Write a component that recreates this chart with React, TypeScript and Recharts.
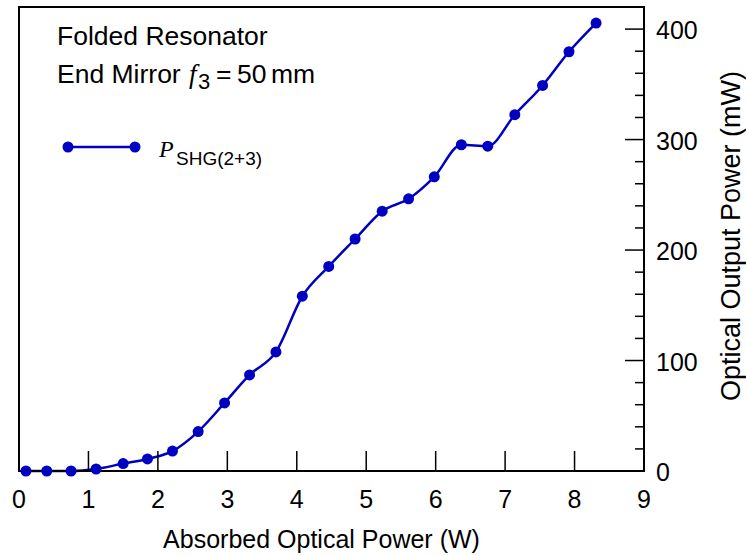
import React from 'react';
import { LineChart, Line, XAxis, YAxis, ReferenceArea, Legend, Label } from 'recharts';

const absorbedPower = [0.10, 0.40, 0.75, 1.11, 1.50, 1.85, 2.21, 2.58, 2.96, 3.32, 3.70, 4.08, 4.46, 4.84, 5.23, 5.61, 5.98, 6.37, 6.75, 7.14, 7.54, 7.92, 8.31];
const shgPower = [0, 0, 0, 1.8, 6.7, 10.9, 18, 35.7, 61.6, 87, 107.8, 158.2, 185.2, 210, 235.2, 246.4, 266.3, 295.3, 294, 322.5, 349, 379.5, 405.5];
const xTicks = [0, 1, 2, 3, 4, 5, 6, 7, 8, 9];
const yTicks = [0, 20, 40, 60, 80, 100, 120, 140, 160, 180, 200, 220, 240, 260, 280, 300, 320, 340, 360, 380, 400];
const yLabelTicks = [0, 100, 200, 300, 400];
const seriesName = 'SHG(2+3)';

const data = absorbedPower.map((x, i) => ({ x, p: shgPower[i] }));

const SANS = '"Liberation Sans", Arial, sans-serif';
const SERIF = '"Liberation Serif", "Times New Roman", serif';
const BLUE = '#0000C0';

const XTick = (props: any) => {
  const { x, y, payload } = props;
  const v = payload.value;
  return (
    <g>
      {v > 0 && v < 9 && <line x1={x} x2={x} y1={y} y2={y - 20} stroke="#000" strokeWidth={1.5} />}
      <text x={x} y={y + 37} textAnchor="middle" fontSize={25} fontFamily={SANS} fill="#000">{v}</text>
    </g>
  );
};

const YTick = (props: any) => {
  const { x, y, payload } = props;
  const v = payload.value;
  const major = yLabelTicks.includes(v);
  return (
    <g>
      {v > 0 && <line x1={x} x2={x - (major ? 19 : 9)} y1={y} y2={y} stroke="#000" strokeWidth={1.5} />}
      {major && (
        <text x={x + 12} y={y + 10} textAnchor="start" fontSize={25} fontFamily={SANS} fill="#000">{v}</text>
      )}
    </g>
  );
};

const LegendContent = () => (
  <svg width={330} height={180} style={{ display: 'block', overflow: 'visible' }}>
    <text x={57} y={45} fontSize={26.5} fontFamily={SANS} fill="#000">Folded Resonator</text>
    <text x={57} y={83} fontSize={26.5} fontFamily={SANS} fill="#000">End Mirror</text>
    <text x={189} y={83} fontSize={27} fontFamily={SERIF} fontStyle="italic" fill="#000">f</text>
    <text x={198} y={88.5} fontSize={22} fontFamily={SANS} fill="#000">3</text>
    <text x={216} y={83} fontSize={26.5} fontFamily={SANS} fill="#000">=</text>
    <text x={237} y={83} fontSize={26.5} fontFamily={SANS} fill="#000">50</text>
    <text x={271} y={83} fontSize={26.5} fontFamily={SANS} fill="#000">mm</text>
    <line x1={68} x2={135} y1={147} y2={147} stroke={BLUE} strokeWidth={2.5} />
    <circle cx={68} cy={147} r={5.5} fill={BLUE} />
    <circle cx={135} cy={147} r={5.5} fill={BLUE} />
    <text x={159} y={157} fontSize={24} fontFamily={SERIF} fontStyle="italic" fill="#000">P</text>
    <text x={176} y={165} fontSize={19} fontFamily={SANS} fill="#000">{seriesName}</text>
  </svg>
);

export default function App() {
  return (
    <div style={{ position: 'absolute', left: 0, top: 0 }}>
      <LineChart width={746} height={556} data={data} margin={{ top: 7, left: 19, right: 22, bottom: 5 }}>
        <ReferenceArea x1={0} x2={9} y1={0} y2={420} fill="none" stroke="#000" strokeWidth={2} ifOverflow="visible" />
        <XAxis
          dataKey="x"
          type="number"
          domain={[0, 9]}
          ticks={xTicks}
          interval={0}
          height={80}
          tickSize={0}
          tickMargin={0}
          tickLine={false}
          axisLine={{ stroke: '#000', strokeWidth: 2 }}
          tick={<XTick />}
        >
          <Label
            content={(p: any) => {
              const vb = p.viewBox || {};
              return (
                <text x={vb.x + vb.width / 2 - 10} y={vb.y + 77} textAnchor="middle" fontSize={25} fontFamily={SANS} fill="#000">
                  Absorbed Optical Power (W)
                </text>
              );
            }}
          />
        </XAxis>
        <YAxis
          orientation="right"
          type="number"
          domain={[0, 420]}
          ticks={yTicks}
          interval={0}
          width={80}
          tickSize={0}
          tickMargin={0}
          tickLine={false}
          axisLine={{ stroke: '#000', strokeWidth: 2 }}
          tick={<YTick />}
        >
          <Label
            content={(p: any) => {
              const vb = p.viewBox || {};
              const cx = vb.x + 96;
              const cy = vb.y + vb.height / 2 - 3;
              return (
                <text x={cx} y={cy} transform={`rotate(-90 ${cx} ${cy})`} textAnchor="middle" fontSize={27} fontFamily={SANS} fill="#000">
                  Optical Output Power (mW)
                </text>
              );
            }}
          />
        </YAxis>
        <Legend
          layout="horizontal"
          verticalAlign="middle"
          align="center"
          wrapperStyle={{ top: 0, left: 0, width: 330, height: 180 }}
          content={<LegendContent />}
        />
        <Line
          dataKey="p"
          type="monotone"
          stroke={BLUE}
          strokeWidth={2.5}
          dot={{ r: 5.5, fill: BLUE, stroke: BLUE, strokeWidth: 0 }}
          isAnimationActive={false}
        />
      </LineChart>
    </div>
  );
}
